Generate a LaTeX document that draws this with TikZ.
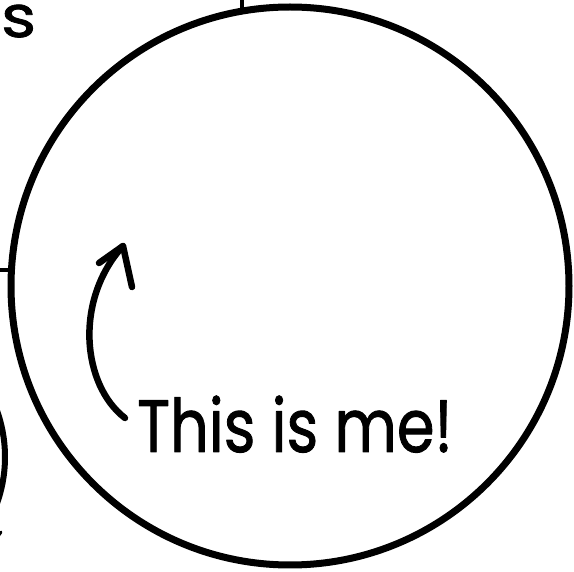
\documentclass[tikz,border=0pt]{standalone}
\usepackage{fontspec}
\setmainfont{Poppins}
\newfontfamily\handfont{Poppins}[FakeBold=1.3]
\usetikzlibrary{arrows.meta}

\begin{document}
\begin{tikzpicture}[x=1pt,y=-1pt,line cap=round,line join=round,
  bigring/.style={line width=7pt},
  pointer/.style={line width=6.5pt}]
  \useasboundingbox (0,0) rectangle (574,572);
  \begin{scope}
  \clip (0,0) rectangle (574,572);
  \draw[line width=4pt,line cap=butt] (241.5,-5)--(241.5,8);
  \draw[line width=4pt,line cap=butt] (-5,270)--(10,270);
  \draw[line width=6pt] (-133,457) circle (138);
  \draw[line width=3pt] (-6,542)--(1,532);
  \node[anchor=base west,inner sep=0pt,font=\handfont\fontsize{58}{60}\selectfont,xscale=1.15] (cut) at (1,37) {s};
  \draw[bigring] (290,286) circle (279);
  \end{scope}
  \node[anchor=base west,inner sep=0pt,font=\handfont\fontsize{74}{80}\selectfont,xscale=0.82] (me) at (137,452) {This is me!};
  \coordinate (tail) at (125,418);
  \coordinate (tip) at (123,246);
  \draw[pointer] (tail) .. controls (82,385) and (74,300) .. (tip);
  \draw[pointer] (99,263) -- (tip) -- (132,287);
\end{tikzpicture}
\end{document}
